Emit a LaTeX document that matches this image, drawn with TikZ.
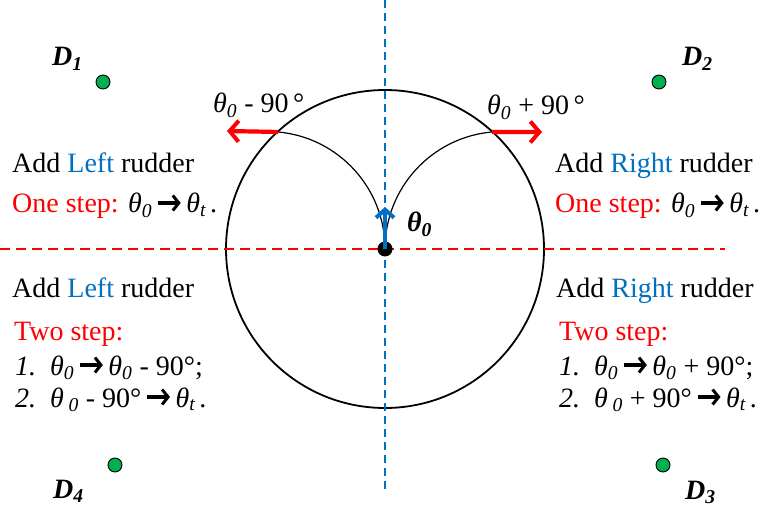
\documentclass[tikz,border=0pt]{standalone}
\usepackage{fontspec}
\setmainfont{Liberation Serif}
\usetikzlibrary{arrows.meta}
\definecolor{myred}{RGB}{255,0,0}
\definecolor{myblue}{RGB}{0,112,192}
\definecolor{mygreen}{RGB}{0,176,80}
\newcommand{\myarr}{\hspace{4pt}\tikz[baseline=0pt]{\draw[line width=3.2pt,-{Straight Barb[length=6pt,width=15pt,line width=3pt]}] (0,10pt)--(23pt,10pt);}\hspace{4pt}}
\newcommand{\thz}{\textit{θ\textsubscript{0}}}
\newcommand{\tht}{\textit{θ\textsubscript{t}}}
\tikzset{
  txt/.style={anchor=base west,inner sep=0pt,font=\fontsize{28}{34}\selectfont},
  dlab/.style={anchor=base west,inner sep=0pt,font=\fontsize{28}{34}\selectfont\bfseries\itshape},
  gdot/.style={circle,fill=mygreen,draw=black,line width=0.9pt,minimum size=14pt,inner sep=0pt},
  redarr/.style={myred,line width=4.2pt,-{Straight Barb[length=9pt,width=21pt,line width=4pt]}},
}
\begin{document}
\begin{tikzpicture}[x=1pt,y=-1pt]
\useasboundingbox (0,0) rectangle (761,508);
% center and circle
\coordinate (c) at (385,249);
\node[circle,draw=black,line width=1.8pt,minimum size=318pt,inner sep=0pt] (circ) at (c) {};
% dashed axes
\coordinate (vt) at (385,0);
\coordinate (vb) at (385,490);
\coordinate (hl) at (0,249);
\coordinate (hr) at (725,249);
\draw[myblue,line width=1.6pt,dash pattern=on 8pt off 5pt] (vt) -- (vb);
\draw[myred,line width=1.6pt,dash pattern=on 10pt off 6pt] (hl) -- (hr);
% inner arcs
\draw[black,line width=1.2pt] (c) arc[start angle=0,end angle=-84.9,radius=117.5] coordinate (pl);
\draw[black,line width=1.2pt] (c) arc[start angle=180,end angle=264.9,radius=117.5] coordinate (pr);
\coordinate (al) at (227,131);
\coordinate (ar) at (542,132);
\draw[redarr] (pl) -- (al);
\draw[redarr] (pr) -- (ar);
% center dot and heading arrow
\node[circle,fill=black,minimum size=15pt,inner sep=0pt] (dot) at (c) {};
\coordinate (ht) at (385,207);
\draw[myblue,line width=4pt,-{Straight Barb[length=8pt,width=18pt,line width=4pt]}] (c) -- (ht);
\node[dlab] (th0) at (407,232) {θ\textsubscript{0}};
% angle labels
\node[txt] (lm) at (213,113) {\thz{} - 90\,°};
\node[txt] (lp) at (487,115) {\thz{} + 90\,°};
% green points
\node[gdot] (d1) at (103,82) {};
\node[gdot] (d2) at (659,82) {};
\node[gdot] (d4) at (115,465) {};
\node[gdot] (d3) at (663,465) {};
\node[dlab] (l1) at (52,66) {D\textsubscript{1}};
\node[dlab] (l2) at (682,66) {D\textsubscript{2}};
\node[dlab] (l4) at (53,498) {D\textsubscript{4}};
\node[dlab] (l3) at (685,499) {D\textsubscript{3}};
% left texts
\node[txt] (t1) at (12,173) {Add \textcolor{myblue}{Left} rudder};
\node[txt] (t2) at (12,213) {\textcolor{myred}{One step:} \thz\myarr\tht\hspace{4pt}.};
\node[txt] (t3) at (12,297) {Add \textcolor{myblue}{Left} rudder};
\node[txt] (t4) at (14,340) {\textcolor{myred}{Two step:}};
\node[txt] (t5) at (15,375) {\textit{1.}\, \thz\myarr\thz{} - 90°;};
\node[txt] (t6) at (15,407) {\textit{2.}\, \textit{θ\,\textsubscript{0}} - 90°\myarr\tht\hspace{4pt}.};
% right texts
\node[txt] (r1) at (555,173) {Add \textcolor{myblue}{Right} rudder};
\node[txt] (r2) at (555,213) {\textcolor{myred}{One step:} \thz\myarr\tht\hspace{4pt}.};
\node[txt] (r3) at (556,297) {Add \textcolor{myblue}{Right} rudder};
\node[txt] (r4) at (559,340) {\textcolor{myred}{Two step:}};
\node[txt] (r5) at (559,375) {\textit{1.}\, \thz\myarr\thz{} + 90°;};
\node[txt] (r6) at (559,407) {\textit{2.}\, \textit{θ\,\textsubscript{0}} + 90°\myarr\tht\hspace{4pt}.};
\end{tikzpicture}
\end{document}
